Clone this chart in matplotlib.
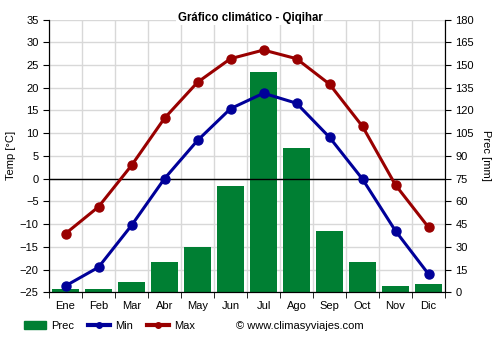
import numpy as np
import matplotlib.pyplot as plt
from matplotlib.patches import Patch
from matplotlib.lines import Line2D

plt.rcParams['font.family'] = ['Liberation Sans', 'DejaVu Sans']

# datos climáticos de Qiqihar
meses = ['Ene', 'Feb', 'Mar', 'Abr', 'May', 'Jun', 'Jul', 'Ago', 'Sep', 'Oct', 'Nov', 'Dic']
t_min = [-23.6, -19.5, -10.3, 0.0, 8.4, 15.4, 18.8, 16.6, 9.1, -0.1, -11.5, -21.0]
t_max = [-12.1, -6.2, 2.9, 13.3, 21.2, 26.4, 28.3, 26.4, 20.8, 11.5, -1.4, -10.7]
prec = [2.2, 2.0, 6.8, 20, 30, 70, 145.5, 95.5, 40.5, 20, 4.2, 5.5]

verde = '#007f33'
azul = '#000099'
rojo = '#990000'

fig = plt.figure(figsize=(5, 3.5), dpi=100)
ax = fig.add_axes([0.098, 0.165, 0.792, 0.779])
x = np.arange(len(meses))

# barras de precipitación (eje derecho)
ax.bar(x, prec, width=0.8, color=verde, zorder=2)
ax.set_ylim(0, 180)
ax.grid(axis='y', color='#d8d8d8', lw=1, zorder=0)

ax.set_xlim(-0.5, 11.5)
ax.set_xticks(x)
ax.set_xticklabels(meses)
ax.set_xticks(np.arange(-0.5, 12, 1), minor=True)
ax.tick_params(axis='x', which='major', length=0, pad=6, labelsize=8)
ax.tick_params(axis='x', which='minor', length=4, color='black')
ax.grid(axis='x', which='minor', color='#d8d8d8', lw=1, zorder=0)

# temperaturas (eje izquierdo)
ax2 = ax.twinx()
ax.yaxis.tick_right()
ax.yaxis.set_label_position('right')
ax.set_yticks(np.arange(0, 181, 15))
ax.tick_params(axis='y', length=4, labelsize=8)
ax.set_ylabel('Prec [mm]', rotation=-90, labelpad=12, fontsize=8)

ax2.yaxis.tick_left()
ax2.yaxis.set_label_position('left')
ax2.set_ylim(-25, 35)
ax2.set_yticks(np.arange(-25, 36, 5))
ax2.tick_params(axis='y', length=4, labelsize=8)
ax2.set_ylabel('Temp [°C]', fontsize=8, labelpad=3)
ax2.axhline(0, color='black', lw=1, zorder=1)
ax2.plot(x, t_min, color=azul, lw=2.2, marker='o', ms=6.5, zorder=3)
ax2.plot(x, t_max, color=rojo, lw=2.2, marker='o', ms=6.5, zorder=3)

for a in (ax, ax2):
    a.spines['top'].set_visible(False)
    for s in ('left', 'right', 'bottom'):
        a.spines[s].set_color('black')

fig.text(0.5, 0.949, 'Gráfico climático - Qiqihar', ha='center', va='center',
         fontsize=8.3, fontweight='bold', zorder=10,
         bbox=dict(facecolor='white', edgecolor='none', pad=1))

# leyenda inferior
handles = [Patch(color=verde),
           Line2D([], [], color=azul, lw=3, marker='o', ms=4),
           Line2D([], [], color=rojo, lw=3, marker='o', ms=4)]
fig.legend(handles, ['Prec', 'Min', 'Max'], loc='center left', bbox_to_anchor=(0.048, 0.069),
           ncol=3, frameon=False, fontsize=8, handlelength=2, columnspacing=1.25,
           handletextpad=0.45, borderpad=0, borderaxespad=0)
fig.text(0.472, 0.069, '© www.climasyviajes.com', fontsize=8, va='center')

fig.savefig('out.png')
